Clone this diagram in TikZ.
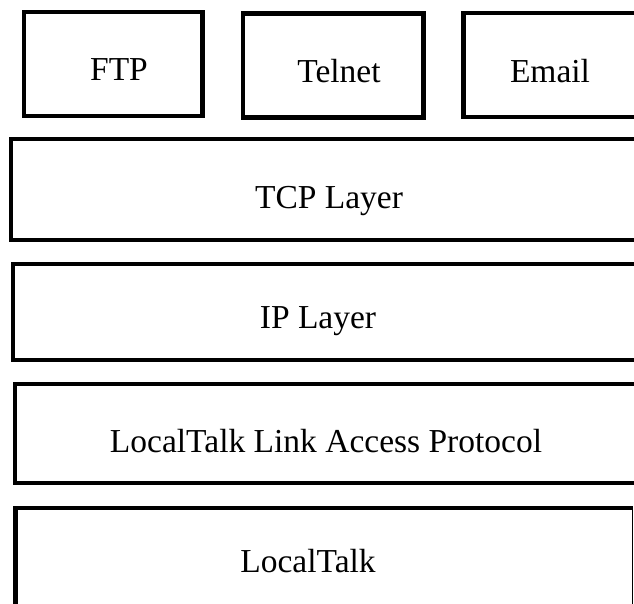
\documentclass[tikz,border=0pt]{standalone}
\usepackage{fontspec}
\setmainfont{Liberation Serif}
\begin{document}
\begin{tikzpicture}[x=1pt,y=-1pt,
  boxline/.style={line width=4.5pt, line join=miter},
  lbl/.style={anchor=base, inner sep=0pt, font=\fontsize{33.5}{38}\selectfont}]
\useasboundingbox (0,0) rectangle (634,603);
\clip (0,0) rectangle (634,603);
\fill[white] (0,0) rectangle (634,603);
% application boxes
\draw[boxline] (24,12) rectangle (202.5,116);
\draw[boxline] (243,13.5) rectangle (423.5,117.5);
\draw[boxline] (463.5,13) rectangle (680,117);
% layers
\draw[boxline] (11,139) rectangle (680,240);
\draw[boxline] (13,264) rectangle (680,360);
\draw[boxline] (15,384) rectangle (680,483);
\draw[boxline] (15.5,660) -- (15.5,508) -- (632.5,508);
\draw[line width=1.5pt] (632.5,508) -- (632.5,660);
% labels
\node[lbl] (ftp) at (119,80) {FTP};
\node[lbl] (telnet) at (339,82) {Telnet};
\node[lbl] (email) at (550,82) {Email};
\node[lbl] (tcp) at (329,208) {TCP Layer};
\node[lbl] (ip) at (318,328) {IP Layer};
\node[lbl] (llap) at (326,452) {LocalTalk Link Access Protocol};
\node[lbl] (lt) at (308,572) {LocalTalk};
\end{tikzpicture}
\end{document}
